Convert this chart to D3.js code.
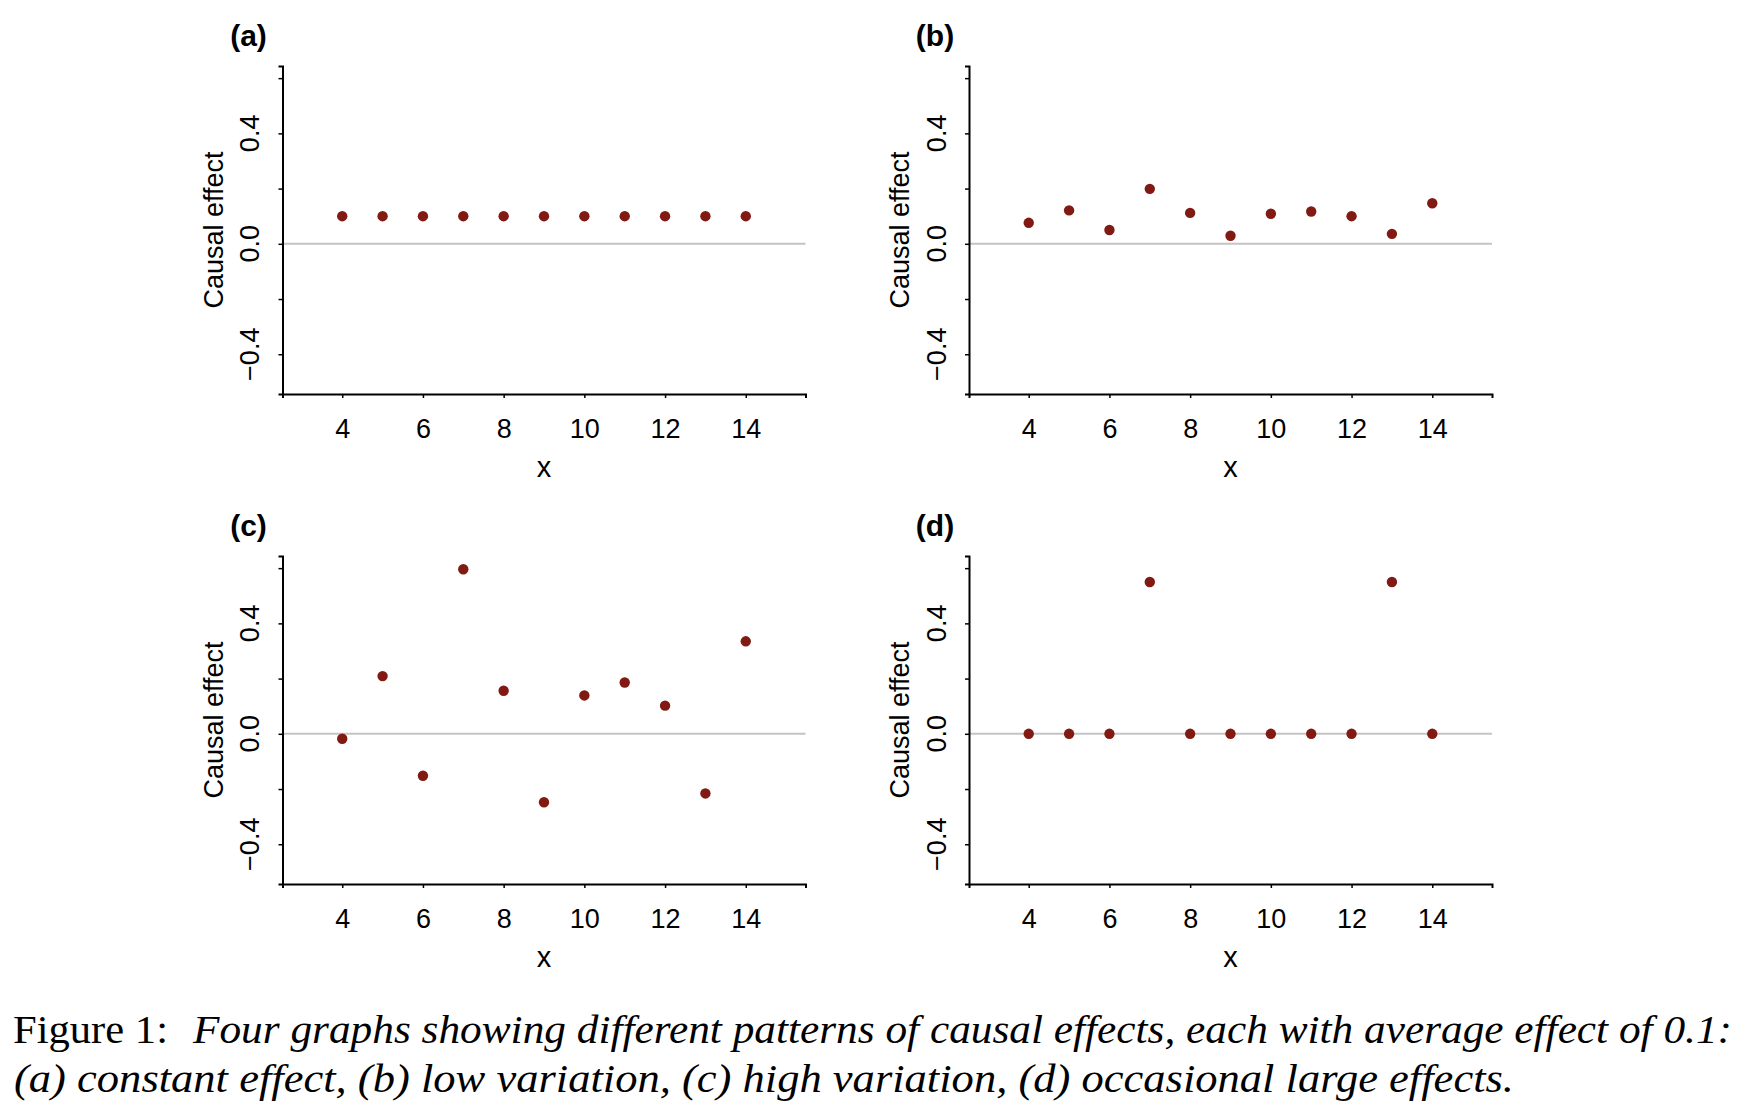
<!DOCTYPE html>
<html><head><meta charset="utf-8">
<script src="https://cdn.jsdelivr.net/npm/d3@7"></script>
<style>body{margin:0;background:#fff;} svg{display:block;}</style>
</head><body>
<svg id="chart" width="1752" height="1116"></svg>
<script>
// ---- data ----
const xValues = [4, 5, 6, 7, 8, 9, 10, 11, 12, 13, 14];
const effectsA = [0.1, 0.1, 0.1, 0.1, 0.1, 0.1, 0.1, 0.1, 0.1, 0.1, 0.1];
const effectsB = [0.076, 0.121, 0.050, 0.199, 0.112, 0.029, 0.109, 0.117, 0.100, 0.036, 0.147];
const effectsC = [-0.018, 0.209, -0.152, 0.596, 0.156, -0.248, 0.139, 0.186, 0.102, -0.216, 0.335];
const effectsD = [0, 0, 0, 0.55, 0, 0, 0, 0, 0, 0.55, 0];
const panelLabels = ["(a)", "(b)", "(c)", "(d)"];
const xTicks = [4, 6, 8, 10, 12, 14];
const yTicks = [-0.4, -0.2, 0, 0.2, 0.4, 0.6];
const yTickLabels = ["\u22120.4", "", "0.0", "", "0.4", ""];
const xLabel = "x";
const yLabel = "Causal effect";
const captionHead = "Figure 1:";
const captionLine1 = "Four graphs showing different patterns of causal effects, each with average effect of 0.1:";
const captionLine2 = "(a) constant effect, (b) low variation, (c) high variation, (d) occasional large effects.";

// ---- layout ----
const series = [effectsA, effectsB, effectsC, effectsD];
const origins = [[282.5, 66], [969, 66], [282.5, 556], [969, 556]];
const W = 523, H = 328;
const sansFont = "'Liberation Sans', Arial, Helvetica, sans-serif";
const dotColor = "#801a12";

const svg = d3.select("#chart");

const x = d3.scaleLinear().domain([2.52, 15.48]).range([0, W]);
const y = d3.scaleLinear().domain([-0.544, 0.644]).range([H, 0]);

series.forEach((vals, i) => {
  const [ox, oy] = origins[i];
  const g = svg.append("g").attr("transform", `translate(${ox},${oy})`);

  // zero reference line
  g.append("line")
    .attr("x1", x.range()[0]).attr("x2", x.range()[1])
    .attr("y1", y(0)).attr("y2", y(0))
    .attr("stroke", "#c4c4c4").attr("stroke-width", 2);

  // x axis
  const xa = g.append("g").attr("transform", `translate(0,${H})`)
    .call(d3.axisBottom(x).tickValues(xTicks).tickSizeOuter(0).tickSize(4).tickFormat(d3.format("d")));
  xa.select(".domain").attr("stroke", "#000").attr("stroke-width", 2);
  xa.selectAll(".tick line").attr("stroke", "#000").attr("stroke-width", 1.5);
  xa.selectAll(".tick text")
    .attr("y", 44).attr("dy", 0)
    .attr("font-family", sansFont).attr("font-size", 27).attr("fill", "#000");

  // y axis
  const ya = g.append("g")
    .call(d3.axisLeft(y).tickValues(yTicks).tickSizeOuter(0).tickSize(4).tickFormat(""));
  ya.select(".domain").attr("stroke", "#000").attr("stroke-width", 2);
  ya.selectAll(".tick line").attr("stroke", "#000").attr("stroke-width", 1.5);

  g.selectAll("text.ylab")
    .data(yTicks.map((t, k) => ({t, label: yTickLabels[k]})).filter(d => d.label))
    .join("text")
    .attr("class", "ylab")
    .attr("transform", d => `translate(-23.5,${y(d.t)}) rotate(-90)`)
    .attr("text-anchor", "middle")
    .attr("font-family", sansFont).attr("font-size", 27).attr("fill", "#000")
    .text(d => d.label);

  // axis titles
  g.append("text")
    .attr("transform", `translate(-60,${H / 2}) rotate(-90)`)
    .attr("text-anchor", "middle")
    .attr("font-family", sansFont).attr("font-size", 27).attr("fill", "#000")
    .text(yLabel);
  g.append("text")
    .attr("x", W / 2).attr("y", H + 83)
    .attr("text-anchor", "middle")
    .attr("font-family", sansFont).attr("font-size", 29).attr("fill", "#000")
    .text(xLabel);

  // panel label
  g.append("text")
    .attr("x", -34).attr("y", -20)
    .attr("text-anchor", "middle")
    .attr("font-family", sansFont).attr("font-size", 30).attr("font-weight", "bold").attr("fill", "#000")
    .text(panelLabels[i]);

  // points
  g.selectAll("circle")
    .data(xValues.map((xv, k) => ({xv, yv: vals[k]})))
    .join("circle")
    .attr("cx", d => x(d.xv)).attr("cy", d => y(d.yv))
    .attr("r", 5.2)
    .attr("fill", dotColor);
});

// caption
const serif = "'Liberation Serif', 'Times New Roman', serif";
svg.append("text")
  .attr("x", 13).attr("y", 1043)
  .attr("font-family", serif).attr("font-size", 39).attr("fill", "#000")
  .attr("textLength", 155).attr("lengthAdjust", "spacingAndGlyphs")
  .text(captionHead);
svg.append("text")
  .attr("x", 193).attr("y", 1043)
  .attr("font-family", serif).attr("font-size", 39).attr("font-style", "italic").attr("fill", "#000")
  .attr("textLength", 1539).attr("lengthAdjust", "spacingAndGlyphs")
  .text(captionLine1);
svg.append("text")
  .attr("x", 14).attr("y", 1092)
  .attr("font-family", serif).attr("font-size", 39).attr("font-style", "italic").attr("fill", "#000")
  .attr("textLength", 1500).attr("lengthAdjust", "spacingAndGlyphs")
  .text(captionLine2);
</script>
</body></html>
